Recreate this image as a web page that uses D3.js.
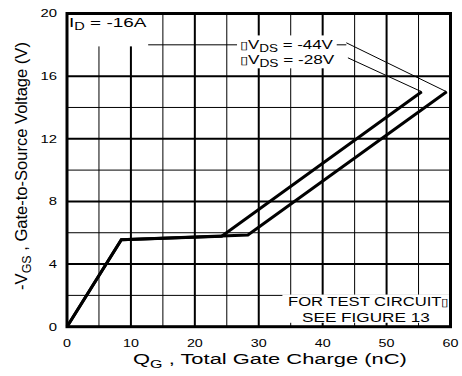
<!DOCTYPE html>
<html>
<head>
<meta charset="utf-8">
<script src="https://cdn.jsdelivr.net/npm/d3@7/dist/d3.min.js"></script>
<style>
  html, body { margin: 0; padding: 0; background: #fff; }
  svg { display: block; }
  text { font-family: "Liberation Sans", Arial, Helvetica, sans-serif; fill: #000; }
</style>
</head>
<body>
<svg id="chart" width="462" height="376"></svg>
<script>
// Gate charge curves, -VGS vs QG, ID = -16A
const qgTicks = [0, 10, 20, 30, 40, 50, 60];
const vgsTicks = [0, 4, 8, 12, 16, 20];
const qgMinor = [5, 15, 25, 35, 45, 55];
const vgsMinor = [2, 6, 10, 14, 18];

const seriesNames = ["-28V", "-44V"];
const qg28 = [0, 8.5, 24.2, 55.5];
const vgs28 = [0, 5.55, 5.78, 15.0];
const qg44 = [0, 8.5, 28.3, 59.4];
const vgs44 = [0, 5.55, 5.85, 15.0];

// leader line start points (label side), in data units
const leaderQ = [43.95, 43.7];
const leaderV = [17.17, 18.13];

const svg = d3.select("#chart");
const x = d3.scaleLinear().domain([0, 60]).range([67, 450.5]);
const y = d3.scaleLinear().domain([0, 20]).range([326.7, 13.5]);

// stretch a text element horizontally around an anchor point to a target width
function fitWidth(sel, target, ax) {
  const w = sel.node().getBBox().width;
  const s = target / w;
  sel.attr("transform", `translate(${ax},0) scale(${s},1) translate(${-ax},0)`);
}

const grid = svg.append("g");
// minor gridlines
grid.selectAll("line.vminor").data(qgMinor).join("line")
  .attr("x1", d => x(d)).attr("x2", d => x(d))
  .attr("y1", y(20)).attr("y2", y(0))
  .attr("stroke", "#000").attr("stroke-width", 1);
grid.selectAll("line.hminor").data(vgsMinor).join("line")
  .attr("x1", x(0))
  .attr("x2", d => d === 18 ? x(leaderQ[1]) : x(60))
  .attr("y1", d => y(d)).attr("y2", d => y(d))
  .attr("stroke", "#000").attr("stroke-width", 1);
// major gridlines
grid.selectAll("line.vmajor").data(qgTicks.slice(1, -1)).join("line")
  .attr("x1", d => x(d)).attr("x2", d => x(d))
  .attr("y1", y(20)).attr("y2", y(0))
  .attr("stroke", "#000").attr("stroke-width", 2);
grid.selectAll("line.hmajor").data(vgsTicks.slice(1, -1)).join("line")
  .attr("x1", x(0)).attr("x2", x(60))
  .attr("y1", d => y(d)).attr("y2", d => y(d))
  .attr("stroke", "#000").attr("stroke-width", 2);

// white backgrounds behind annotations
const bg = svg.append("g").attr("fill", "#fff");
bg.append("rect").attr("x", x(0)).attr("y", y(20)).attr("width", x(12.7) - x(0)).attr("height", y(17.9) - y(20));
bg.append("rect").attr("x", x(26.6)).attr("y", y(18.6)).attr("width", x(42.2) - x(26.6)).attr("height", y(16.5) - y(18.6));
bg.append("rect").attr("x", x(33.7)).attr("y", y(2.05)).attr("width", x(60) - x(33.7)).attr("height", y(0.25) - y(2.05));

// curves
const line = d3.line().x(d => x(d[0])).y(d => y(d[1]));
const curves = [d3.zip(qg28, vgs28), d3.zip(qg44, vgs44)];
svg.append("g").selectAll("path").data(curves).join("path")
  .attr("d", line)
  .attr("fill", "none").attr("stroke", "#000")
  .attr("stroke-width", 3).attr("stroke-linejoin", "miter");

// leader lines from labels to curve ends
const ends = [[qg28[3], vgs28[3]], [qg44[3], vgs44[3]]];
svg.append("g").selectAll("line").data(ends).join("line")
  .attr("x1", (d, i) => x(leaderQ[i])).attr("y1", (d, i) => y(leaderV[i]))
  .attr("x2", d => x(d[0])).attr("y2", d => y(d[1]))
  .attr("stroke", "#000").attr("stroke-width", 1);

// frame
svg.append("rect")
  .attr("x", x(0)).attr("y", y(20))
  .attr("width", x(60) - x(0)).attr("height", y(0) - y(20))
  .attr("fill", "none").attr("stroke", "#000").attr("stroke-width", 3);

// tick labels
svg.append("g").selectAll("text").data(vgsTicks).join("text")
  .attr("x", 57).attr("y", d => y(d) + 4)
  .attr("text-anchor", "end").attr("font-size", 11)
  .text(d => d)
  .each(function () { const t = d3.select(this); const w = this.getBBox().width; fitWidth(t, w * 1.35, 57); });
svg.append("g").selectAll("text").data(qgTicks).join("text")
  .attr("x", d => x(d)).attr("y", 347.5)
  .attr("text-anchor", "middle").attr("font-size", 11)
  .text(d => d)
  .each(function (d) { const t = d3.select(this); const w = this.getBBox().width; fitWidth(t, w * 1.3, x(d)); });

// axis titles
const xt = svg.append("text").attr("x", 133).attr("y", 364.5).attr("font-size", 15);
xt.append("tspan").text("Q");
xt.append("tspan").attr("font-size", 11).attr("dy", 4).text("G");
xt.append("tspan").attr("dy", -4).text(" , Total Gate Charge (nC)");
fitWidth(xt, 274, 133);

const yg = svg.append("g").attr("transform", "translate(27,166) rotate(-90)");
const yt = yg.append("text").attr("x", 0).attr("y", 0).attr("text-anchor", "middle").attr("font-size", 16);
yt.append("tspan").text("-V");
yt.append("tspan").attr("font-size", 12).attr("dy", 4).text("GS");
yt.append("tspan").attr("dy", -4).text(" , Gate-to-Source Voltage (V)");
{
  const w = yt.node().getBBox().width;
  yt.attr("transform", `scale(${248 / w},1)`);
}

// annotations
const id = svg.append("text").attr("x", 69).attr("y", 27.5).attr("font-size", 13);
id.append("tspan").text("I");
id.append("tspan").attr("font-size", 10).attr("dy", 3).text("D");
id.append("tspan").attr("dy", -3).text(" = -16A");
fitWidth(id, 78, 69);

const vlabels = [seriesNames[1], seriesNames[0]];
vlabels.forEach((name, i) => {
  const t = svg.append("text").attr("x", 240).attr("y", 49 + i * 15).attr("font-size", 12.5);
  t.append("tspan").attr("font-size", 11).text("\u25AF");
  t.append("tspan").text("V");
  t.append("tspan").attr("font-size", 10).attr("dy", 3).text("DS");
  t.append("tspan").attr("dy", -3).text(" = " + name);
  fitWidth(t, 94 + i * 1.5, 240);
});

const n1 = svg.append("text").attr("x", 288).attr("y", 306.5).attr("font-size", 13.5);
n1.append("tspan").text("FOR TEST CIRCUIT");
n1.append("tspan").attr("font-size", 11).text("\u25AF");
fitWidth(n1, 161, 288);
const n2 = svg.append("text").attr("x", 302).attr("y", 322.5).attr("font-size", 13.5).text("SEE FIGURE 13");
fitWidth(n2, 128, 302);
</script>
</body>
</html>
